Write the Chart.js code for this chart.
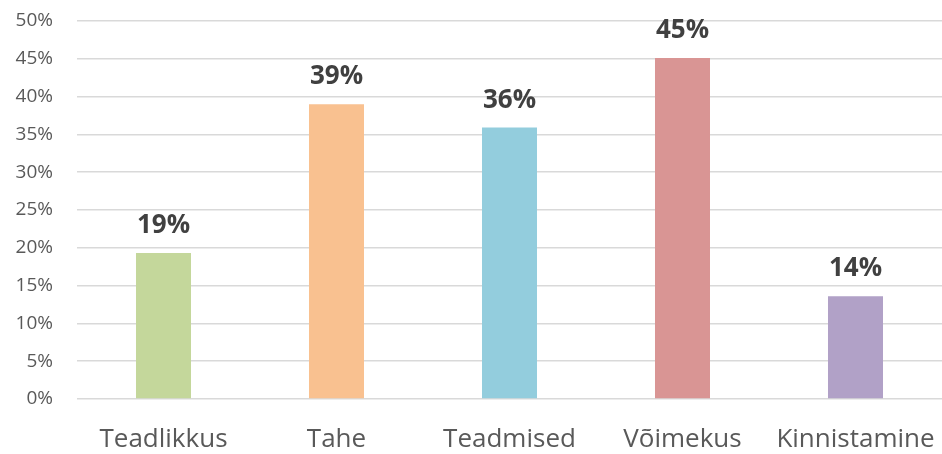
<!DOCTYPE html>
<html>
<head>
<meta charset="utf-8">
<script src="https://cdn.jsdelivr.net/npm/chart.js@4.4.1/dist/chart.umd.min.js"></script>
<style>
  html, body { margin: 0; padding: 0; background: #fff; }
  #wrap { width: 942px; height: 454px; }
</style>
</head>
<body>
<div id="wrap"><canvas id="chart" width="942" height="454"></canvas></div>
<script>
// --- Datos ---
const categorias = ['Teadlikkus', 'Tahe', 'Teadmised', 'Võimekus', 'Kinnistamine'];
const valores = [19.3, 39.0, 35.9, 45.1, 13.6];
const etiquetas = ['19%', '39%', '36%', '45%', '14%'];
const colores = ['#C4D79B', '#F9C190', '#93CDDD', '#D99594', '#B1A1C7'];
const yTicks = [0, 5, 10, 15, 20, 25, 30, 35, 40, 45, 50];

const FONT = '"Open Sans", "Noto Sans", sans-serif';

// etiquetas encima de cada barra
const etiquetasPlugin = {
    id: 'etiquetas',
    afterDatasetsDraw(chart) {
        const ctx = chart.ctx;
        const meta = chart.getDatasetMeta(0);
        ctx.save();
        ctx.font = 'bold 26px ' + FONT;
        ctx.fillStyle = '#404040';
        ctx.textAlign = 'center';
        ctx.textBaseline = 'alphabetic';
        meta.data.forEach((bar, i) => {
            ctx.fillText(etiquetas[i], bar.x, bar.y - 20);
        });
        ctx.restore();
    }
};

new Chart(document.getElementById('chart').getContext('2d'), {
    type: 'bar',
    data: {
        labels: categorias,
        datasets: [{
            data: valores,
            backgroundColor: colores,
            borderWidth: 0,
            barPercentage: 1,
            categoryPercentage: 0.318
        }]
    },
    options: {
        responsive: false,
        animation: false,
        layout: { padding: { top: 21, right: 0, bottom: 0, left: 0 } },
        plugins: { legend: { display: false }, tooltip: { enabled: false } },
        scales: {
            x: {
                afterFit: axis => { axis.height = 55; axis.paddingLeft = 0; axis.paddingRight = 0; },
                grid: { display: false, drawTicks: false },
                border: { display: false },
                ticks: { color: '#595959', font: { family: FONT, size: 26 }, padding: 25 }
            },
            y: {
                min: 0,
                max: 50,
                afterBuildTicks: axis => { axis.ticks = yTicks.map(v => ({ value: v })); },
                afterFit: axis => { axis.width = 77; axis.paddingTop = 0; axis.paddingBottom = 0; },
                grid: { color: '#D9D9D9', lineWidth: 1.5, drawTicks: false },
                border: { display: false },
                ticks: {
                    color: '#595959',
                    font: { family: FONT, size: 19 },
                    padding: 24,
                    callback: v => v + '%'
                }
            }
        }
    },
    plugins: [etiquetasPlugin]
});
</script>
</body>
</html>
